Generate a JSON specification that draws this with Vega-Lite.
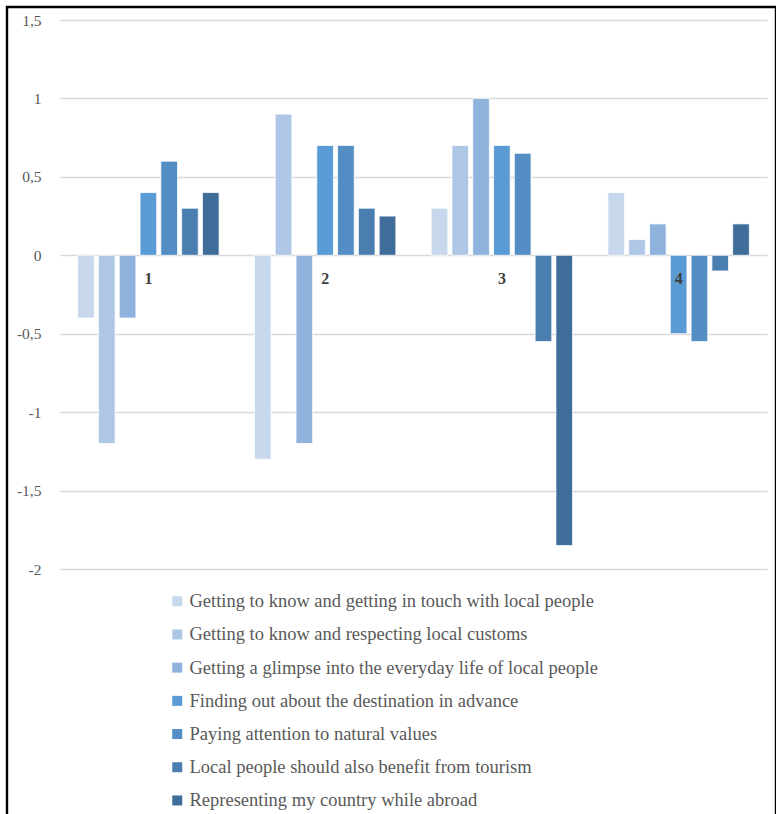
{
  "$schema": "https://vega.github.io/schema/vega-lite/v6.json",
  "autosize": {"type": "none"},
  "padding": {"left": 7, "top": 7, "right": 0, "bottom": 0},
  "width": 769,
  "height": 812,
  "background": "white",
  "config": {
    "view": {"stroke": "#000000", "strokeWidth": 2.4},
    "axis": {"labelFont": "Liberation Serif", "labelColor": "#595959"},
    "legend": {"labelFont": "Liberation Serif", "labelColor": "#595959"}
  },
  "datasets": {
    "scores": [
      {"cluster": "1", "item": "Getting to know and getting in touch with local people", "value": -0.4},
      {"cluster": "1", "item": "Getting to know and respecting local customs", "value": -1.2},
      {"cluster": "1", "item": "Getting a glimpse into the everyday life of local people", "value": -0.4},
      {"cluster": "1", "item": "Finding out about the destination in advance", "value": 0.4},
      {"cluster": "1", "item": "Paying attention to natural values", "value": 0.6},
      {"cluster": "1", "item": "Local people should also benefit from tourism", "value": 0.3},
      {"cluster": "1", "item": "Representing my country while abroad", "value": 0.4},
      {"cluster": "2", "item": "Getting to know and getting in touch with local people", "value": -1.3},
      {"cluster": "2", "item": "Getting to know and respecting local customs", "value": 0.9},
      {"cluster": "2", "item": "Getting a glimpse into the everyday life of local people", "value": -1.2},
      {"cluster": "2", "item": "Finding out about the destination in advance", "value": 0.7},
      {"cluster": "2", "item": "Paying attention to natural values", "value": 0.7},
      {"cluster": "2", "item": "Local people should also benefit from tourism", "value": 0.3},
      {"cluster": "2", "item": "Representing my country while abroad", "value": 0.25},
      {"cluster": "3", "item": "Getting to know and getting in touch with local people", "value": 0.3},
      {"cluster": "3", "item": "Getting to know and respecting local customs", "value": 0.7},
      {"cluster": "3", "item": "Getting a glimpse into the everyday life of local people", "value": 1.0},
      {"cluster": "3", "item": "Finding out about the destination in advance", "value": 0.7},
      {"cluster": "3", "item": "Paying attention to natural values", "value": 0.65},
      {"cluster": "3", "item": "Local people should also benefit from tourism", "value": -0.55},
      {"cluster": "3", "item": "Representing my country while abroad", "value": -1.85},
      {"cluster": "4", "item": "Getting to know and getting in touch with local people", "value": 0.4},
      {"cluster": "4", "item": "Getting to know and respecting local customs", "value": 0.1},
      {"cluster": "4", "item": "Getting a glimpse into the everyday life of local people", "value": 0.2},
      {"cluster": "4", "item": "Finding out about the destination in advance", "value": -0.5},
      {"cluster": "4", "item": "Paying attention to natural values", "value": -0.55},
      {"cluster": "4", "item": "Local people should also benefit from tourism", "value": -0.1},
      {"cluster": "4", "item": "Representing my country while abroad", "value": 0.2}
    ],
    "clusters": [
      {"cluster": "1"},
      {"cluster": "2"},
      {"cluster": "3"},
      {"cluster": "4"}
    ]
  },
  "layer": [
    {
      "data": {"name": "scores"},
      "mark": {"type": "bar", "stroke": "#ffffff", "strokeWidth": 0.75},
      "encoding": {
        "x": {
          "field": "cluster",
          "type": "nominal",
          "sort": ["1", "2", "3", "4"],
          "scale": {"range": [53, 760], "paddingInner": 0.2, "paddingOuter": 0.1},
          "axis": null
        },
        "xOffset": {
          "field": "item",
          "type": "nominal",
          "sort": [
            "Getting to know and getting in touch with local people",
            "Getting to know and respecting local customs",
            "Getting a glimpse into the everyday life of local people",
            "Finding out about the destination in advance",
            "Paying attention to natural values",
            "Local people should also benefit from tourism",
            "Representing my country while abroad"
          ],
          "scale": {"paddingInner": 0.2, "paddingOuter": 0}
        },
        "y": {
          "field": "value",
          "type": "quantitative",
          "scale": {"domain": [-2, 1.5], "range": [562, 13], "nice": false, "zero": false},
          "axis": {
            "title": null,
            "orient": "left",
            "offset": -53,
            "domain": false,
            "ticks": false,
            "values": [-2, -1.5, -1, -0.5, 0, 0.5, 1, 1.5],
            "labelExpr": "replace(toString(datum.value), '.', ',')",
            "labelFontSize": 15.5,
            "labelPadding": 19,
            "grid": true,
            "gridColor": "#d9d9d9",
            "gridWidth": 1.3
          }
        },
        "color": {
          "field": "item",
          "type": "nominal",
          "scale": {
            "domain": [
              "Getting to know and getting in touch with local people",
              "Getting to know and respecting local customs",
              "Getting a glimpse into the everyday life of local people",
              "Finding out about the destination in advance",
              "Paying attention to natural values",
              "Local people should also benefit from tourism",
              "Representing my country while abroad"
            ],
            "range": ["#c7d7ec", "#afc7e6", "#8fb3dc", "#5b9bd5", "#528dc4", "#4a7eb0", "#3f6c99"]
          },
          "legend": {
            "title": null,
            "orient": "none",
            "direction": "vertical",
            "legendX": 161,
            "legendY": 585,
            "padding": 0,
            "symbolType": "square",
            "symbolSize": 100,
            "symbolStrokeWidth": 0,
            "labelFontSize": 18.5,
            "labelOffset": 3,
            "labelLimit": 600,
            "rowPadding": 14.2
          }
        }
      }
    },
    {
      "data": {"name": "clusters"},
      "mark": {
        "type": "text",
        "dy": 24,
        "font": "Liberation Serif",
        "fontSize": 16,
        "fontWeight": "bold",
        "color": "#404040"
      },
      "encoding": {
        "x": {"field": "cluster", "type": "nominal", "sort": ["1", "2", "3", "4"]},
        "y": {"datum": 0},
        "text": {"field": "cluster"}
      }
    }
  ]
}
